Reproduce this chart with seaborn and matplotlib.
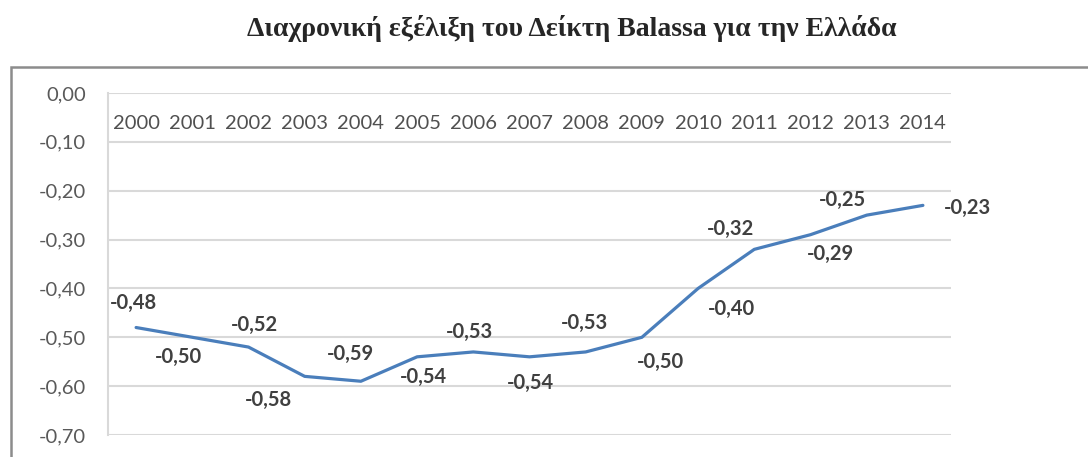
import pandas as pd
import matplotlib
matplotlib.use('Agg')
import matplotlib.pyplot as plt
import seaborn as sns
from matplotlib.patches import Rectangle
from matplotlib.ticker import FuncFormatter

# δεδομένα
years = [2000, 2001, 2002, 2003, 2004, 2005, 2006, 2007, 2008, 2009, 2010, 2011, 2012, 2013, 2014]
balassa = [-0.48, -0.50, -0.52, -0.58, -0.59, -0.54, -0.53, -0.54, -0.53, -0.50, -0.40, -0.32, -0.29, -0.25, -0.23]
y_ticks = [0.0, -0.1, -0.2, -0.3, -0.4, -0.5, -0.6, -0.7]
title = "Διαχρονική εξέλιξη του Δείκτη Balassa για την Ελλάδα"

# θέση των ετικετών (pixels, σχετικά με το σημείο)
lab_dx = [-3, -14, 6, -36, -10, 6, -4, 1, -1, 19, 33, -24, 20, -24, 45]
lab_dy = [25, -20, 22, -24, 27, -20, 20, -26, 29, -25, -21, 20, -19, 15, -3]

df = pd.DataFrame({'year': years, 'value': balassa})

sns.set_style('white')
plt.rcParams['font.family'] = ['Lato', 'DejaVu Sans']

fig = plt.figure(figsize=(10.88, 4.57), dpi=100)
ax = fig.add_axes([108 / 1088, 1 - 435 / 457, 843 / 1088, 342 / 457])

sns.lineplot(data=df, x='year', y='value', ax=ax, color='#4a7ebb', linewidth=2.3)

ax.set_xlim(1999.5, 2014.5)
ax.set_ylim(-0.70, 0.0)
ax.set_yticks(y_ticks)
ax.yaxis.set_major_formatter(FuncFormatter(lambda v, p: f"{v:.2f}".replace('.', ',').replace('-0,00', '0,00')))
ax.yaxis.grid(True, color='#d9d9d9', linewidth=1.5)
ax.set_axisbelow(True)
for s in ['top', 'right', 'bottom']:
    ax.spines[s].set_visible(False)
ax.spines['left'].set_color('#d9d9d9')
ax.spines['left'].set_linewidth(1.5)
ax.tick_params(axis='y', length=0, pad=16, labelsize=14.5, labelcolor='#595959')

# έτη κάτω από τη γραμμή του μηδενός
ax.xaxis.tick_top()
ax.set_xticks(years)
ax.set_xticklabels([str(y) for y in years])
ax.tick_params(axis='x', length=0, pad=-16, labelsize=14.5, labelcolor='#505050')
for lab in ax.get_xticklabels():
    lab.set_va('top')
ax.set_xlabel('')
ax.set_ylabel('')

for x, v, dx, dy in zip(years, balassa, lab_dx, lab_dy):
    ax.annotate(f"{v:.2f}".replace('.', ','), (x, v), xytext=(dx, dy), textcoords='offset pixels',
                ha='center', va='center', fontsize=14.5, fontweight='bold', color='#404040')

# πλαίσιο γραφήματος
fig.patches.append(Rectangle((11 / 1088, -0.1), 1.2, 1.1 - 67 / 457, transform=fig.transFigure,
                             fill=False, edgecolor='#8c8c8c', linewidth=1.8))

fig.text(572 / 1088, 1 - 28 / 457, title, ha='center', va='center', fontsize=20,
         fontweight='bold', family=['Liberation Serif', 'DejaVu Serif'])

fig.savefig('out.png', dpi=100)
